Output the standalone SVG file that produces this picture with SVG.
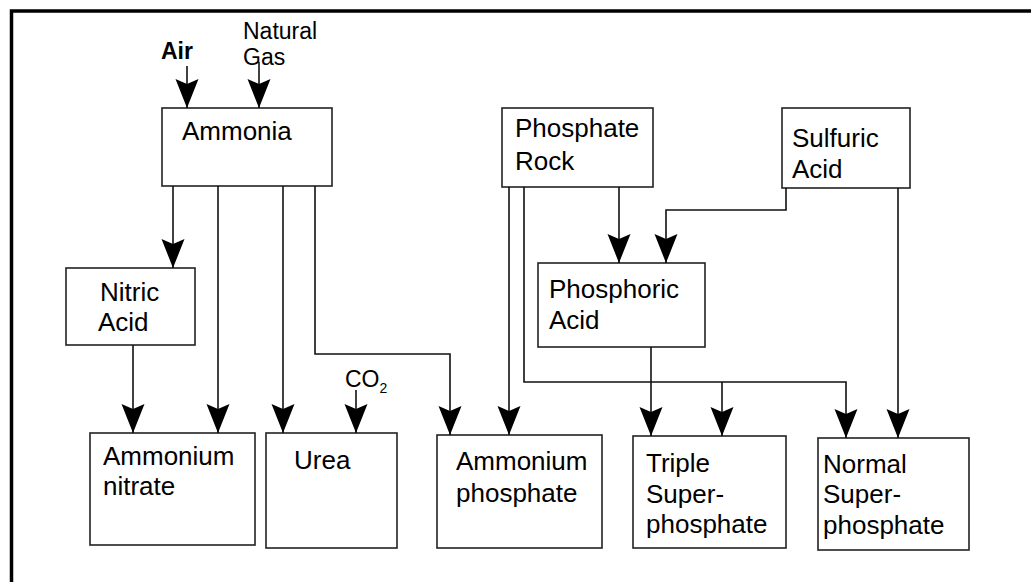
<svg xmlns="http://www.w3.org/2000/svg" width="1031" height="582" viewBox="0 0 1031 582">
<style>
  text { font-family: "Liberation Sans", Arial, sans-serif; fill: #000; }
  .box { fill: #fff; stroke: #222; stroke-width: 1.6; }
  .lbl { font-size: 26px; }
  .src { font-size: 23px; }
  .conn path { fill: none; stroke: #111; stroke-width: 1.6; marker-end: url(#ah); }
</style>
<defs>
  <marker id="ah" markerUnits="userSpaceOnUse" markerWidth="30" markerHeight="24" refX="30" refY="12" orient="auto" viewBox="0 0 30 24">
    <path d="M30,12 L1,0.5 L6,12 L1,23.5 Z" fill="#000"/>
  </marker>
</defs>
<rect width="1031" height="582" fill="#fff"/>
<path d="M11.5 582 V11 H1031" fill="none" stroke="#000" stroke-width="3.5"/>

<g id="air"><text class="src" x="161" y="59" font-weight="bold">Air</text></g>
<g id="natural-gas"><text class="src" x="243" y="39">Natural</text><text class="src" x="243" y="65">Gas</text></g>
<g id="co2"><text class="src" x="345" y="387">CO<tspan font-size="14" dy="6">2</tspan></text></g>

<g id="ammonia"><rect class="box" x="162" y="108" width="170" height="78"/><text class="lbl" x="182" y="140">Ammonia</text></g>
<g id="phosphate-rock"><rect class="box" x="502" y="108" width="151" height="79"/><text class="lbl" x="515" y="137">Phosphate</text><text class="lbl" x="515" y="170">Rock</text></g>
<g id="sulfuric-acid"><rect class="box" x="782" y="108" width="128" height="80"/><text class="lbl" x="792" y="147">Sulfuric</text><text class="lbl" x="792" y="178">Acid</text></g>
<g id="nitric-acid"><rect class="box" x="66" y="268" width="129" height="77"/><text class="lbl" x="100" y="301">Nitric</text><text class="lbl" x="98" y="331">Acid</text></g>
<g id="phosphoric-acid"><rect class="box" x="538" y="263" width="167" height="84"/><text class="lbl" x="549" y="298">Phosphoric</text><text class="lbl" x="549" y="329">Acid</text></g>
<g id="ammonium-nitrate"><rect class="box" x="90" y="433" width="165" height="112"/><text class="lbl" x="103" y="465">Ammonium</text><text class="lbl" x="103" y="495">nitrate</text></g>
<g id="urea"><rect class="box" x="266" y="433" width="131" height="115"/><text class="lbl" x="294" y="469">Urea</text></g>
<g id="ammonium-phosphate"><rect class="box" x="437" y="435" width="165" height="113"/><text class="lbl" x="456" y="470">Ammonium</text><text class="lbl" x="456" y="502">phosphate</text></g>
<g id="triple-superphosphate"><rect class="box" x="633" y="436" width="153" height="112"/><text class="lbl" x="646" y="472">Triple</text><text class="lbl" x="646" y="503">Super-</text><text class="lbl" x="646" y="533">phosphate</text></g>
<g id="normal-superphosphate"><rect class="box" x="818" y="438" width="151" height="112"/><text class="lbl" x="823" y="473">Normal</text><text class="lbl" x="823" y="503">Super-</text><text class="lbl" x="823" y="534">phosphate</text></g>

<g id="connectors" class="conn">
  <path d="M187 66 V108"/>
  <path d="M259 62 V108"/>
  <path d="M173 186 V268"/>
  <path d="M218 186 V433"/>
  <path d="M283 186 V433"/>
  <path d="M315 186 V354 H450 V435"/>
  <path d="M133 345 V433"/>
  <path d="M356 390 V433"/>
  <path d="M509 187 V435"/>
  <path d="M524 187 V382 H846 V438"/>
  <path d="M722 382 V436"/>
  <path d="M619 187 V263"/>
  <path d="M786 188 V210 H666 V263"/>
  <path d="M651 347 V436"/>
  <path d="M898 188 V438"/>
</g>
</svg>
